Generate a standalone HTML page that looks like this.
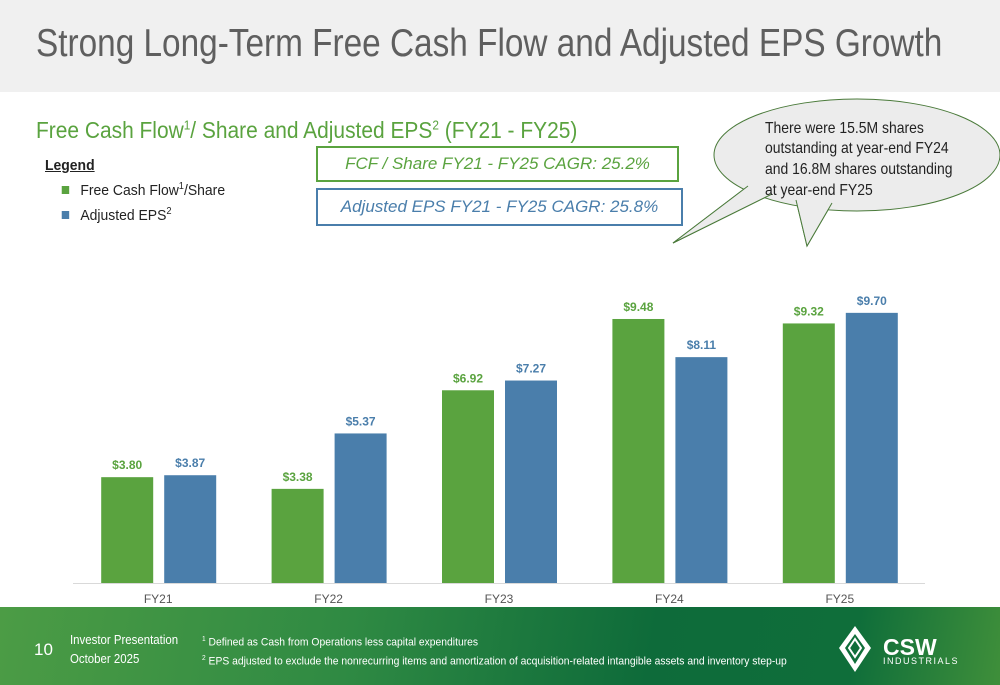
<!DOCTYPE html>
<html><head><meta charset="utf-8"><style>
body{margin:0;width:1000px;height:685px;overflow:hidden;font-family:"Liberation Sans",sans-serif;background:#fff;position:relative}
.a{position:absolute;white-space:nowrap}
</style></head><body>
<div class="a" style="left:0;top:0;width:1000px;height:92px;background:#f0f0f0"></div>
<div class="a" style="left:36px;top:22px;font-size:39px;color:#5f5f5f;transform:scaleX(0.855);transform-origin:0 0">Strong Long-Term Free Cash Flow and Adjusted EPS Growth</div>
<div class="a" style="left:36px;top:117px;font-size:23px;color:#5aa33f;transform:scaleX(0.91);transform-origin:0 0">Free Cash Flow<sup style="font-size:13px">1</sup>/ Share and Adjusted EPS<sup style="font-size:13px">2</sup> (FY21 - FY25)</div>
<div class="a" style="left:45px;top:155px;font-size:15px;color:#222;line-height:21px;transform:scaleX(0.93);transform-origin:0 0">
<div style="font-weight:bold;text-decoration:underline">Legend</div>
<div><span style="display:inline-block;width:8px;height:8px;background:#5aa33f;margin:0 12px 1px 18px"></span>Free Cash Flow<sup style="font-size:10px">1</sup>/Share</div>
<div><span style="display:inline-block;width:8px;height:8px;background:#4a7eab;margin:0 12px 1px 18px"></span>Adjusted EPS<sup style="font-size:10px">2</sup></div>
</div>
<div class="a" style="left:316px;top:146px;width:363px;height:36px;border:2px solid #5aa33f;box-sizing:border-box;font-size:17px;font-style:italic;color:#5aa33f;text-align:center;line-height:32px">FCF / Share FY21 - FY25 CAGR: 25.2%</div>
<div class="a" style="left:316px;top:188px;width:367px;height:38px;border:2px solid #4a7eab;box-sizing:border-box;font-size:17px;font-style:italic;color:#4a7eab;text-align:center;line-height:34px">Adjusted EPS FY21 - FY25 CAGR: 25.8%</div>
<svg class="a" style="left:0;top:0" width="1000" height="685">
<path d="M748,186 L673,243 L772,194 Z M796,200 L807,246 L832,203 Z" fill="#ececec" stroke="#4a7a3a" stroke-width="1"/>
<ellipse cx="857" cy="155" rx="143" ry="56" fill="#ececec" stroke="#4a7a3a" stroke-width="1"/>
<path d="M748,186 L673,243 L772,194 Z M796,200 L807,246 L832,203 Z" fill="#ececec" stroke="none"/>
<path d="M748,186 L673,243 L772,194 M796,200 L807,246 L832,203" fill="none" stroke="#4a7a3a" stroke-width="1"/>
<text font-family="Liberation Sans" font-size="15.5" fill="#222" transform="translate(765,0) scale(0.9,1)"><tspan x="0" y="133">There were 15.5M shares</tspan><tspan x="0" y="153">outstanding at year-end FY24</tspan><tspan x="0" y="174">and 16.8M shares outstanding</tspan><tspan x="0" y="195">at year-end FY25</tspan></text>
</svg>
<svg class="a" id="chart" style="left:0;top:0" width="1000" height="610"></svg>
<div class="a" style="left:0;top:607px;width:1000px;height:78px;background:linear-gradient(100deg,#4c9c45 0%,#2f8a43 35%,#0e6b3a 65%,#0f6e3a 85%,#3f8f3a 100%)"></div>
<div class="a" style="left:34px;top:640px;font-size:17px;color:#fff">10</div>
<div class="a" style="left:70px;top:630px;font-size:13px;color:#fff;line-height:19px;transform:scaleX(0.88);transform-origin:0 0">Investor Presentation<br>October 2025</div>
<div class="a" style="left:202px;top:632px;font-size:11px;color:#fff;line-height:16px;transform:scaleX(0.94);transform-origin:0 0"><sup style="font-size:7px">1</sup> Defined as Cash from Operations less capital expenditures<br><sup style="font-size:7px">2</sup> EPS adjusted to exclude the nonrecurring items and amortization of acquisition-related intangible assets and inventory step-up</div>
<svg class="a" style="left:835px;top:622px" width="140" height="54">
<path d="M20,4 L36,26 L20,50 L4,26 Z M20,12 L30,26 L20,42 L10,26 Z" fill="#fff" fill-rule="evenodd"/>
<path d="M20,17 L26,26 L20,35 L14,26 Z" fill="none" stroke="#fff" stroke-width="2"/>
<text x="48" y="33" font-family="Liberation Sans" font-weight="bold" font-size="23" fill="#fff">CSW</text>
<text x="48" y="42" font-family="Liberation Sans" font-size="9" fill="#fff" letter-spacing="1.5">INDUSTRIALS</text>
</svg>
<script>
const categories=["FY21","FY22","FY23","FY24","FY25"];
const fcfValues=[3.80,3.38,6.92,9.48,9.32];
const epsValues=[3.87,5.37,7.27,8.11,9.70];
const fcfLabels=["$3.80","$3.38","$6.92","$9.48","$9.32"];
const epsLabels=["$3.87","$5.37","$7.27","$8.11","$9.70"];
const svg=document.getElementById('chart');
const NS='http://www.w3.org/2000/svg';
const baseY=583,pxPerUnit=27.85,x0=73,step=170.4;
const xC=i=>x0+step*(i+0.5);
const yV=v=>baseY-v*pxPerUnit;
function mk(t,a){const e=document.createElementNS(NS,t);for(const k in a)e.setAttribute(k,a[k]);svg.appendChild(e);return e;}
const ax=mk('line',{x1:73,x2:925,y1:baseY+0.5,y2:baseY+0.5,stroke:'#d9d9d9','stroke-width':1});


categories.forEach((c,i)=>{
 const cx=xC(i);
 const series=[[fcfValues,fcfLabels,'#5aa33f',cx-57,'fcf'],[epsValues,epsLabels,'#4a7eab',cx+6,'eps']];
 series.forEach(([vals,labs,col,x,nm])=>{
  const r=mk('rect',{x:x,y:yV(vals[i]),width:52,height:vals[i]*pxPerUnit,fill:col});
  
  
  const t=mk('text',{x:x+26,y:yV(vals[i])-8,'text-anchor':'middle','font-family':'Liberation Sans','font-size':12,'font-weight':'bold',fill:col});
  t.textContent=labs[i];
  
  
 });
 const l=mk('text',{x:cx,y:603,'text-anchor':'middle','font-family':'Liberation Sans','font-size':12,fill:'#555'});
 l.textContent=c;
 
 
});
</script>
</body></html>
